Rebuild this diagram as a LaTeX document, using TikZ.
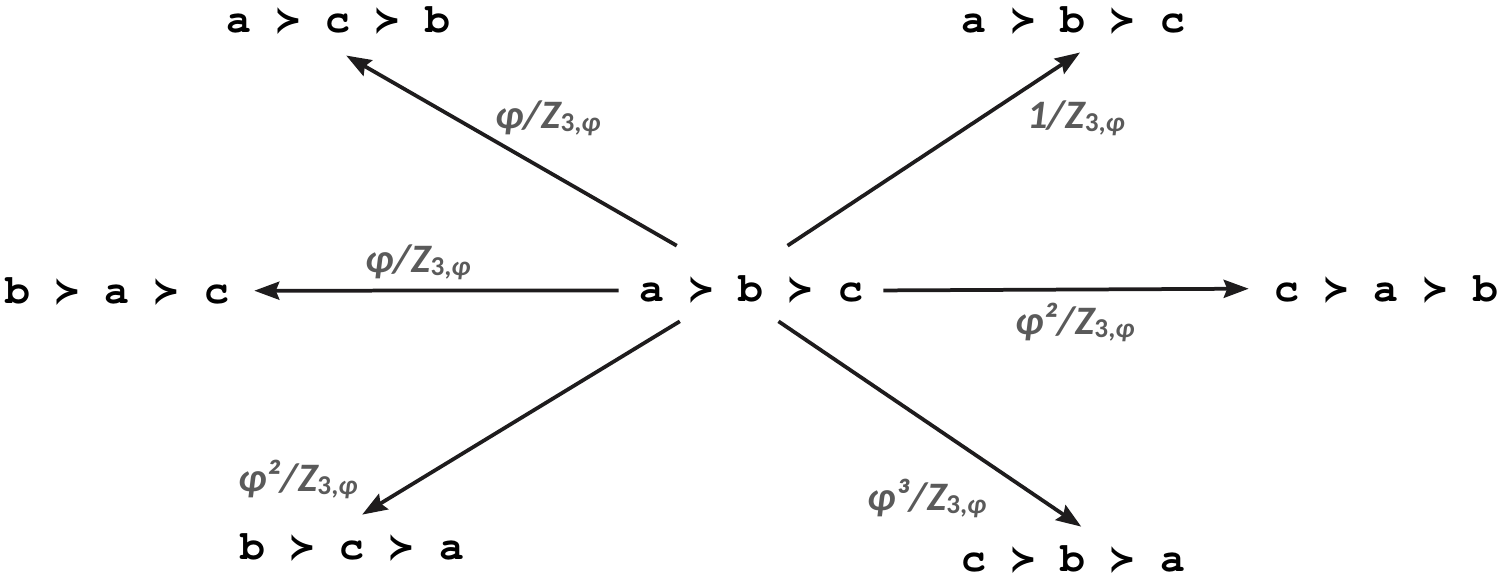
\documentclass[tikz,border=0pt]{standalone}
\usepackage{fontspec}
\usepackage{graphicx}
\setmonofont{TeX Gyre Cursor}
\newfontfamily\labelfont{Carlito}
\newfontfamily\symbolfont{DejaVu Sans}
\usetikzlibrary{arrows.meta, calc}
\definecolor{labelgray}{HTML}{5A5A5A}
\definecolor{arrowblack}{HTML}{1E1C1D}
\newcommand{\pref}{\makebox[0.6em]{\scalebox{0.8}[0.88]{\symbolfont\bfseries ≻}}}
\newcommand{\ord}[3]{#1 \pref{} #2 \pref{} #3}
\newcommand{\wt}[1]{#1/Z\raisebox{-0.15ex}{\fontsize{15.5}{15.5}\selectfont\upshape 3,\itshape φ}}

\begin{document}
\begin{tikzpicture}[x=0.02cm, y=-0.02cm,
    arr/.style={-{Stealth[length=0.5cm, width=0.36cm, inset=0.07cm]}, line width=0.075cm, draw=arrowblack},
    order/.style={font=\ttfamily\bfseries\fontsize{23.6}{28}\selectfont, text height=0.36cm, text depth=0.06cm, inner xsep=0.5cm, inner ysep=0.1cm, anchor=base},
    hub/.style={order, text height=0.7cm, text depth=0cm, inner xsep=0.4cm, inner ysep=0.4cm},
    weight/.style={font=\labelfont\bfseries\itshape\fontsize{23}{27}\selectfont, text=labelgray, inner sep=0pt}]

                      \useasboundingbox (0,0) rectangle (1500,578);

                      \node[hub] (abc) at (751,301) {\ord{a}{b}{c}};
                      \node[order] (acb) at (338,32) {\ord{a}{c}{b}};
                      \node[order] (abcT) at (1073,32) {\ord{a}{b}{c}};
                      \node[order] (bac) at (117,303) {\ord{b}{a}{c}};
                      \node[order] (cab) at (1386,301) {\ord{c}{a}{b}};
                      \node[order] (bca) at (352,559) {\ord{b}{c}{a}};
                      \node[order] (cba) at (1073,571) {\ord{c}{b}{a}};

                      \draw[arr, shorten >=0.61cm] (abc.153) -- (acb.221.5);
                      \draw[arr, shorten >=0.44cm] (abc.46) -- (abcT.328.6);
                      \draw[arr] (abc.183) -- (bac.2);
                      \draw[arr] (abc.357) -- (cab.178);
                      \draw[arr, shorten >=0.81cm] (abc.208) -- (bca.147.8);
                      \draw[arr, shorten >=0.75cm] (abc.306) -- (cba.22.2);

                      % weights
                      \node[weight] (w1) at (548,118) {\wt{φ}};
                      \node[weight] (w2) at (1076,118) {\wt{1}};
                      \node[weight] (w3) at (418,262) {\wt{φ}};
                      \node[weight] (w4) at (1075,322) {\wt{φ²}};
                      \node[weight] (w5) at (298,479) {\wt{φ²}};
                      \node[weight] (w6) at (927,498) {\wt{φ³}};

                    \end{tikzpicture}
\end{document}
